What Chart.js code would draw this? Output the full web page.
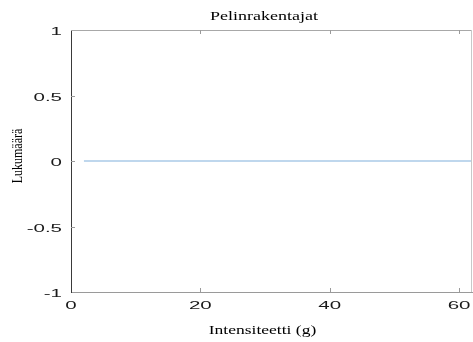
<!DOCTYPE html>
<html>
<head>
<meta charset="utf-8">
<script src="https://cdn.jsdelivr.net/npm/chart.js@4/dist/chart.umd.min.js"></script>
<style>
  html, body { margin: 0; padding: 0; background: #fff; }
  #wrap { width: 473px; height: 342px; }
</style>
</head>
<body>
<div id="wrap"><canvas id="chart"></canvas></div>
<script>
const titleText = 'Pelinrakentajat';
const xTitle = 'Intensiteetti (g)';
const yTitle = 'Lukumäärä';
const intensity = [2, 62];
const counts = [0, 0];
const xTicks = [0, 20, 40, 60];
const yTicks = [-1, -0.5, 0, 0.5, 1];

// text in the reference is stretched sideways, so draw it with a scale
function wideText(ctx, text, x, y, sx, align, rotate) {
  ctx.save();
  ctx.translate(x, y);
  ctx.scale(sx, 1);
  if (rotate) ctx.rotate(-Math.PI / 2);
  ctx.textAlign = align;
  ctx.textBaseline = 'alphabetic';
  ctx.fillText(text, 0, 0);
  ctx.restore();
}

const matlabAxes = {
  id: 'matlabAxes',
  afterDraw(chart) {
    const ctx = chart.ctx;
    const a = chart.chartArea;
    const xs = chart.scales.x, ys = chart.scales.y;
    ctx.save();

    // box top / right
    ctx.lineWidth = 1;
    ctx.strokeStyle = '#a8a8a8';
    ctx.beginPath();
    ctx.moveTo(a.left, a.top + 0.5);
    ctx.lineTo(a.right, a.top + 0.5);
    ctx.stroke();
    ctx.strokeStyle = '#c8c8c8';
    ctx.beginPath();
    ctx.moveTo(a.right - 0.5, a.top);
    ctx.lineTo(a.right - 0.5, a.bottom);
    ctx.stroke();

    // inward ticks
    ctx.strokeStyle = '#9a9a9a';
    xTicks.forEach(v => {
      if (v === xs.min) return;
      const px = Math.round(xs.getPixelForValue(v)) + 0.5;
      ctx.beginPath();
      ctx.moveTo(px, a.bottom); ctx.lineTo(px, a.bottom - 4);
      ctx.moveTo(px, a.top); ctx.lineTo(px, a.top + 4);
      ctx.stroke();
    });
    yTicks.forEach(v => {
      if (v === ys.min || v === ys.max) return;
      const py = Math.round(ys.getPixelForValue(v)) + 0.5;
      ctx.beginPath();
      ctx.moveTo(a.left, py); ctx.lineTo(a.left + 4, py);
      ctx.stroke();
    });

    // tick labels
    ctx.fillStyle = '#1a1a1a';
    ctx.font = '10px "Liberation Sans", Arial, sans-serif';
    xTicks.forEach(v => {
      wideText(ctx, String(v), xs.getPixelForValue(v), a.bottom + 17, 2.05, 'center');
    });
    yTicks.forEach(v => {
      wideText(ctx, String(v), a.left - 9, ys.getPixelForValue(v) + 5, 2.05, 'right');
    });

    // titles
    ctx.fillStyle = '#000';
    ctx.font = '12px "Liberation Serif", "Times New Roman", serif';
    wideText(ctx, titleText, 264, 20, 1.5, 'center');
    wideText(ctx, xTitle, 262.5, 334, 1.46, 'center');
    wideText(ctx, yTitle, 22, 156, 1.2, 'center', true);
    ctx.restore();
  }
};

new Chart(document.getElementById('chart'), {
  type: 'line',
  data: {
    datasets: [{
      data: intensity.map((x, i) => ({ x, y: counts[i] })),
      borderColor: '#bfd7ed',
      borderWidth: 2,
      pointRadius: 0,
      fill: false,
      tension: 0
    }]
  },
  options: {
    responsive: true,
    maintainAspectRatio: false,
    animation: false,
    layout: { padding: { top: 30, right: 1, left: 0, bottom: 0 } },
    plugins: { legend: { display: false }, tooltip: { enabled: false } },
    scales: {
      x: {
        type: 'linear', min: 0, max: 62,
        afterBuildTicks: s => { s.ticks = xTicks.map(value => ({ value })); },
        afterFit: s => { s.height = 50; },
        ticks: { display: false },
        grid: { display: false },
        border: { color: '#9a9a9a', width: 1 }
      },
      y: {
        type: 'linear', min: -1, max: 1,
        afterBuildTicks: s => { s.ticks = yTicks.map(value => ({ value })); },
        afterFit: s => { s.width = 71; },
        ticks: { display: false },
        grid: { display: false },
        border: { color: '#3a3a3a', width: 1 }
      }
    }
  },
  plugins: [matlabAxes]
});
</script>
</body>
</html>
